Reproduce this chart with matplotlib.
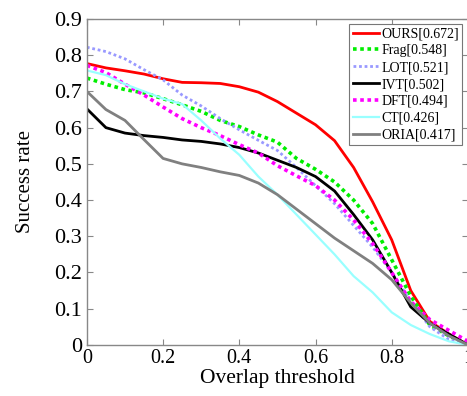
import numpy as np
import matplotlib
matplotlib.use("Agg")
import matplotlib.pyplot as plt

plt.rcParams["font.family"] = ["Liberation Serif", "DejaVu Serif"]

# overlap thresholds
thresholds = [0.0, 0.05, 0.1, 0.15, 0.2, 0.25, 0.3, 0.35, 0.4, 0.45, 0.5,
              0.55, 0.6, 0.65, 0.7, 0.75, 0.8, 0.85, 0.9, 0.95, 1.0]

ours = [0.777, 0.765, 0.757, 0.748, 0.735, 0.725, 0.724, 0.722, 0.713, 0.698, 0.672,
        0.640, 0.608, 0.564, 0.490, 0.395, 0.290, 0.150, 0.065, 0.030, 0.0]
frag = [0.737, 0.720, 0.705, 0.696, 0.680, 0.663, 0.645, 0.620, 0.603, 0.580, 0.560,
        0.515, 0.485, 0.450, 0.400, 0.335, 0.235, 0.135, 0.055, 0.025, 0.0]
lot = [0.822, 0.810, 0.790, 0.760, 0.732, 0.690, 0.660, 0.625, 0.594, 0.565, 0.537,
       0.490, 0.440, 0.390, 0.330, 0.270, 0.200, 0.120, 0.050, 0.015, 0.0]
ivt = [0.652, 0.600, 0.585, 0.578, 0.573, 0.566, 0.562, 0.555, 0.545, 0.530, 0.510,
       0.490, 0.465, 0.425, 0.360, 0.290, 0.200, 0.105, 0.060, 0.030, 0.0]
dft = [0.772, 0.752, 0.720, 0.690, 0.657, 0.625, 0.600, 0.578, 0.553, 0.530, 0.495,
       0.467, 0.440, 0.400, 0.345, 0.280, 0.200, 0.120, 0.070, 0.040, 0.010]
ct = [0.758, 0.745, 0.720, 0.700, 0.680, 0.665, 0.620, 0.570, 0.525, 0.465, 0.415,
      0.360, 0.305, 0.250, 0.190, 0.145, 0.090, 0.055, 0.030, 0.010, 0.0]
oria = [0.700, 0.650, 0.620, 0.567, 0.515, 0.500, 0.490, 0.478, 0.468, 0.447, 0.415,
        0.375, 0.335, 0.295, 0.260, 0.225, 0.180, 0.116, 0.060, 0.025, 0.0]

labels = ["OURS[0.672]", "Frag[0.548]", "LOT[0.521]", "IVT[0.502]",
          "DFT[0.494]", "CT[0.426]", "ORIA[0.417]"]

fig = plt.figure(figsize=(4.67, 3.96), dpi=100)
ax = fig.add_axes([0.186, 0.129, 0.816, 0.823])

ax.plot(thresholds, ours, color="#ff0000", lw=2.0, label=labels[0])
ax.plot(thresholds, frag, color="#00ee00", lw=2.6, ls=(0, (1, 1)), label=labels[1])
ax.plot(thresholds, lot, color="#9999ff", lw=2.0, ls=(0, (1, 1)), label=labels[2])
ax.plot(thresholds, ivt, color="black", lw=2.0, label=labels[3])
ax.plot(thresholds, dft, color="#ff00ff", lw=2.6, ls=(0, (1, 1)), label=labels[4])
ax.plot(thresholds, ct, color="#99ffff", lw=1.6, label=labels[5])
ax.plot(thresholds, oria, color="#808080", lw=2.0, label=labels[6])

ax.set_xlim(0, 1)
ax.set_ylim(0, 0.9)
ax.set_xticks([0, 0.2, 0.4, 0.6, 0.8, 1])
ax.set_xticklabels(["0", "0.2", "0.4", "0.6", "0.8", "1"])
ax.set_yticks(np.arange(0, 0.91, 0.1))
ax.set_yticklabels(["0", "0.1", "0.2", "0.3", "0.4", "0.5", "0.6", "0.7", "0.8", "0.9"])
ax.tick_params(direction="in", top=True, right=True,
               length=4, color="#888888")
ax.tick_params(axis="x", labelsize=14.5, pad=3)
ax.tick_params(axis="y", labelsize=16, pad=3.5)
for s in ax.spines.values():
    s.set_color("#888888")
    s.set_linewidth(1.0)

ax.set_xlabel("Overlap threshold", fontsize=15.5, labelpad=1)
ax.set_ylabel("Success rate", fontsize=15, labelpad=14)

leg = ax.legend(loc="upper right", bbox_to_anchor=(0.985, 0.985), fontsize=10,
                handlelength=1.9, handletextpad=0.15, labelspacing=0.28,
                borderpad=0.25, borderaxespad=0.0, fancybox=False, framealpha=1)
leg.get_frame().set_edgecolor("#777777")
leg.get_frame().set_linewidth(0.8)

fig.savefig("out.png", dpi=100)
